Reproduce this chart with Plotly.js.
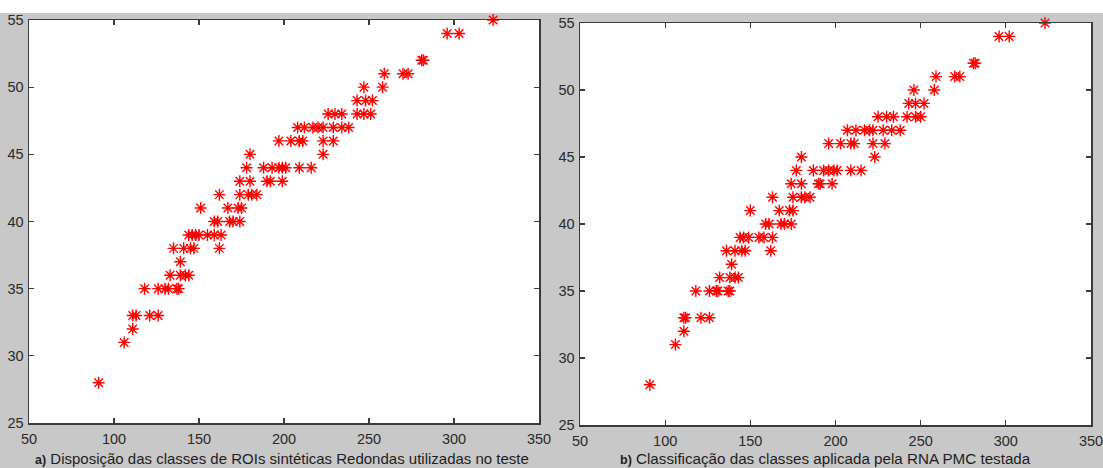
<!DOCTYPE html>
<html><head><meta charset="utf-8">
<script src="https://cdn.plot.ly/plotly-3.0.1.min.js"></script>
<style>html,body{margin:0;padding:0;background:#fff;overflow:hidden;} #chart{width:1103px;height:468px;}</style>
</head><body><div id="chart"></div>
<script>
// Panel a) data
const aX = [91, 106, 111, 111,113,121,126, 118,126,130,132,137,138, 133,139,142,144, 139,
  135,141,145,147,162, 144,146,148,150,155,159,163, 159,161,168,170,174, 151,167,173,175,
  162,174,179,181,184, 174,180,190,192,199, 178,188,193,197,199,201,209,216, 180,223,
  197,204,209,211,223,229, 208,212,217,220,223,229,234,238, 226,230,234,243,247,251,
  243,248,252, 247,258, 259,270,273, 281,282, 296,303, 323];
const aY = [28, 31, 32, 33,33,33,33, 35,35,35,35,35,35, 36,36,36,36, 37,
  38,38,38,38,38, 39,39,39,39,39,39,39, 40,40,40,40,40, 41,41,41,41,
  42,42,42,42,42, 43,43,43,43,43, 44,44,44,44,44,44,44,44, 45,45,
  46,46,46,46,46,46, 47,47,47,47,47,47,47,47, 48,48,48,48,48,48,
  49,49,49, 50,50, 51,51,51, 52,52, 54,54, 55];
// Panel b) data
const bX = [91, 106, 111, 111,112,121,126, 118,126,130,131,137,138, 132,138,141,143, 139,
  136,141,145,147,162, 144,146,149,155,158,163, 159,161,168,170,174, 150,167,173,175,
  163,175,180,182,185, 174,180,190,191,198, 177,187,193,196,199,201,209,215, 180,223,
  196,203,209,211,222,229, 207,212,217,220,222,228,233,238, 225,230,234,242,247,250,
  243,247,252, 246,258, 259,270,273, 281,282, 296,302, 323];
const bY = [28, 31, 32, 33,33,33,33, 35,35,35,35,35,35, 36,36,36,36, 37,
  38,38,38,38,38, 39,39,39,39,39,39, 40,40,40,40,40, 41,41,41,41,
  42,42,42,42,42, 43,43,43,43,43, 44,44,44,44,44,44,44,44, 45,45,
  46,46,46,46,46,46, 47,47,47,47,47,47,47,47, 48,48,48,48,48,48,
  49,49,49, 50,50, 51,51,51, 52,52, 54,54, 55];
const xTicks = [50, 100, 150, 200, 250, 300, 350];
const yTicks = [25, 30, 35, 40, 45, 50, 55];
const captionA = "Disposição das classes de ROIs sintéticas Redondas utilizadas no teste";
const captionB = "Classificação das classes aplicada pela RNA PMC testada";

const W = 1103, H = 468;
const mk = {symbol: 'asterisk-open', size: 10, color: '#ff0000', line: {color: '#ff0000', width: 1.4}};
const traces = [
  {x: aX, y: aY, type: 'scatter', mode: 'markers', marker: mk, xaxis: 'x', yaxis: 'y', hoverinfo: 'none', cliponaxis: false},
  {x: bX, y: bY, type: 'scatter', mode: 'markers', marker: mk, xaxis: 'x2', yaxis: 'y2', hoverinfo: 'none', cliponaxis: false}
];
const tickFont = {family: 'Liberation Sans, Arial, sans-serif', size: 14.5, color: '#2a2a2a'};
function xa(d, anchor) {
  return {domain: d, anchor: anchor, range: [50, 350], tickvals: xTicks, ticktext: xTicks.map(String),
    ticks: 'inside', ticklen: 5, tickwidth: 1.2, tickcolor: '#3a3a3a', showline: true, linecolor: '#3a3a3a',
    linewidth: 1.5, mirror: 'ticks', showgrid: false, zeroline: false, tickfont: tickFont, ticklabelstandoff: 2,
    ticklabeloverflow: 'allow'};
}
function ya(d, anchor) {
  return {domain: d, anchor: anchor, range: [25, 55], tickvals: yTicks, ticktext: yTicks.map(String),
    ticks: 'inside', ticklen: 5, tickwidth: 1.2, tickcolor: '#3a3a3a', showline: true, linecolor: '#3a3a3a',
    linewidth: 1.5, mirror: 'ticks', showgrid: false, zeroline: false, tickfont: tickFont, ticklabelstandoff: 1,
    ticklabeloverflow: 'allow'};
}
const layout = {
  width: W, height: H, margin: {l: 0, r: 0, t: 0, b: 0},
  paper_bgcolor: '#c8c8c8', plot_bgcolor: '#ffffff', showlegend: false,
  xaxis: xa([29 / W, 539 / W], 'y'),
  yaxis: ya([(H - 423) / H, (H - 20) / H], 'x'),
  xaxis2: xa([580 / W, 1091 / W], 'y2'),
  yaxis2: ya([(H - 425) / H, (H - 23) / H], 'x2'),
  shapes: [{type: 'rect', xref: 'paper', yref: 'paper', x0: 0, x1: 1, y0: (H - 13) / H, y1: 1,
    fillcolor: '#ffffff', line: {width: 0}, layer: 'below'}],
  annotations: [
    {xref: 'paper', yref: 'paper', x: 33 / W, y: 10 / H, xanchor: 'left', yanchor: 'middle', showarrow: false,
     text: '<b><span style="font-size:12.5px">a)</span></b> ' + captionA,
     font: {family: 'Liberation Sans, Arial, sans-serif', size: 15, color: '#1e1e1e'}},
    {xref: 'paper', yref: 'paper', x: 618 / W, y: 10 / H, xanchor: 'left', yanchor: 'middle', showarrow: false,
     text: '<b><span style="font-size:12.5px">b)</span></b> ' + captionB,
     font: {family: 'Liberation Sans, Arial, sans-serif', size: 15.2, color: '#1e1e1e'}}
  ]
};
Plotly.newPlot('chart', traces, layout, {staticPlot: true, displayModeBar: false});
</script>
</body></html>
